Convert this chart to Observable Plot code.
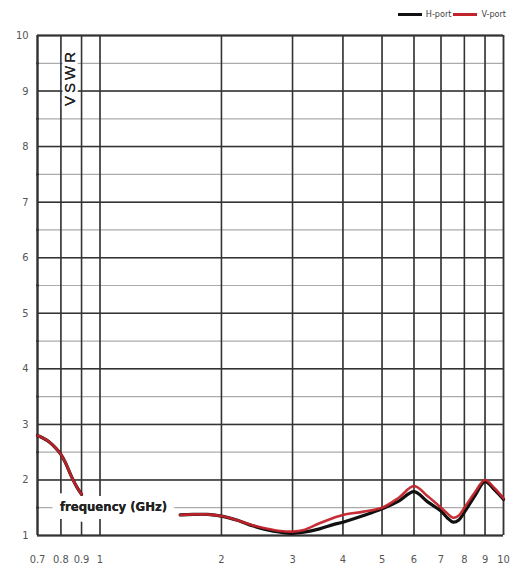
<!DOCTYPE html>
<html>
<head>
<meta charset="utf-8">
<script src="https://cdn.jsdelivr.net/npm/d3@7"></script>
<script src="https://cdn.jsdelivr.net/npm/@observablehq/plot@0.6"></script>
<style>
  body { margin: 0; background: #fff; }
  #wrap { position: relative; width: 520px; height: 573px; }
  #legend { position: absolute; top: 9px; right: 14px; font: 9px "Liberation Sans Narrow", "DejaVu Sans Condensed", sans-serif; color: #444; display: flex; align-items: center; gap: 2px; }
  .sw { display: inline-block; width: 24px; height: 3px; margin-right: 2px; }
</style>
</head>
<body>
<div id="wrap">
  <div id="legend"></div>
</div>
<script>
// Data
const seriesNames = ["H-port", "V-port"];
const seriesColors = ["#111111", "#c3242b"];
const freq = [0.7, 0.72, 0.75, 0.78, 0.8, 0.82, 0.85, 0.875, 0.9, null,
  1.58, 1.7, 1.85, 2.0, 2.2, 2.4, 2.6, 2.8, 3.0, 3.2, 3.5, 3.8, 4.0, 4.5, 5.0, 5.5, 6.0, 6.5, 7.0, 7.25, 7.5, 7.75, 8.0, 8.5, 9.0, 9.5, 10];
const hPort = [2.80, 2.76, 2.68, 2.56, 2.46, 2.32, 2.06, 1.88, 1.74, null,
  1.37, 1.38, 1.38, 1.35, 1.27, 1.17, 1.10, 1.06, 1.04, 1.06, 1.12, 1.20, 1.24, 1.36, 1.48, 1.62, 1.79, 1.60, 1.44, 1.32, 1.24, 1.28, 1.42, 1.72, 1.97, 1.82, 1.65];
const vPort = [2.80, 2.76, 2.68, 2.56, 2.46, 2.32, 2.06, 1.88, 1.74, null,
  1.37, 1.38, 1.38, 1.35, 1.27, 1.18, 1.12, 1.08, 1.07, 1.10, 1.22, 1.32, 1.37, 1.43, 1.50, 1.68, 1.89, 1.70, 1.50, 1.40, 1.32, 1.36, 1.50, 1.78, 2.00, 1.85, 1.67];
const xTicks = [0.7, 0.8, 0.9, 1, 2, 3, 4, 5, 6, 7, 8, 9, 10];
const xTickLabels = ["0.7", "0.8", "0.9", "1", "2", "3", "4", "5", "6", "7", "8", "9", "10"];
const yTicks = [1, 2, 3, 4, 5, 6, 7, 8, 9, 10];
const yTickLabels = ["1", "2", "3", "4", "5", "6", "7", "8", "9", "10"];
const yMinor = [1.5, 2.5, 3.5, 4.5, 5.5, 6.5, 7.5, 8.5, 9.5];
const xLabel = "frequency (GHz)";
const yLabel = "VSWR";

const rows = (vals) => freq.map((f, i) => ({ f: f == null ? NaN : f, v: vals[i] == null ? NaN : vals[i] }));
const hData = rows(hPort), vData = rows(vPort);
const narrow = "'Liberation Sans Narrow', 'DejaVu Sans Condensed', 'Liberation Sans', sans-serif";

const chart = Plot.plot({
  width: 520,
  height: 573,
  marginLeft: 37,
  marginRight: 17,
  marginTop: 35,
  marginBottom: 38,
  style: { fontFamily: narrow, background: "white" },
  x: { type: "log", domain: [0.7, 10], axis: null },
  y: { domain: [1, 10], axis: null },
  marks: [
    Plot.gridX(xTicks, { stroke: "#666", strokeOpacity: 0.7, strokeWidth: 1.2 }),
    Plot.gridY(yTicks.concat(yMinor), { stroke: "#666", strokeOpacity: 0.55, strokeWidth: 1.2 }),
    Plot.ruleX([10], { stroke: "#666", strokeWidth: 1.5 }),
    Plot.ruleY([1, 10], { stroke: "#333", strokeWidth: 2.2 }),
    Plot.ruleX([0.7], { stroke: "#333", strokeWidth: 2.2 }),
    // x ticks crossing the bottom axis
    Plot.tickX(xTicks, { x: (d) => d, y1: 0.93, y2: 1.1, stroke: "#333", strokeWidth: 1.5 }),
    Plot.text(xTicks, { x: (d) => d, frameAnchor: "bottom", dy: 27, text: (d, i) => xTickLabels[i], fontSize: 11, fill: "#555" }),
    // y ticks crossing the left axis
    Plot.tickY(yTicks, { y: (d) => d, x1: 0.68, x2: 0.72, stroke: "#333", strokeWidth: 1.5 }),
    Plot.text(yTicks, { y: (d) => d, frameAnchor: "left", dx: -9, textAnchor: "end", text: (d, i) => yTickLabels[i], fontSize: 11, fill: "#555" }),
    Plot.dot(yMinor, { x: () => 0.7, y: (d) => d, r: 1.4, fill: "#333" }),
    Plot.line(hData, { x: "f", y: "v", stroke: seriesColors[0], strokeWidth: 3.2, curve: "catmull-rom" }),
    Plot.line(vData, { x: "f", y: "v", stroke: seriesColors[1], strokeWidth: 2.6, strokeOpacity: 0.95, curve: "catmull-rom" }),
    Plot.text([xLabel], { frameAnchor: "bottom-left", dx: 76, dy: -25, fontSize: 13, fontWeight: "bold", fill: "#222", stroke: "white", strokeWidth: 16, textAnchor: "middle", fontFamily: narrow }),
    Plot.text([xLabel], { frameAnchor: "bottom-left", dx: 76, dy: -25, fontSize: 13, fontWeight: "bold", fill: "#222", textAnchor: "middle", fontFamily: narrow }),
    Plot.text([yLabel], { frameAnchor: "top-left", dx: 27, dy: 42, rotate: -90, textAnchor: "middle", fontSize: 15, fill: "#222", stroke: "white", strokeWidth: 6, fontFamily: "'Liberation Sans', sans-serif" }),
    Plot.text([yLabel], { frameAnchor: "top-left", dx: 27, dy: 42, rotate: -90, textAnchor: "middle", fontSize: 15, fill: "#222", fontFamily: "'Liberation Sans', sans-serif" })
  ]
});
document.getElementById("wrap").appendChild(chart);
// stretch the rotated VSWR label like the reference
d3.select(chart).selectAll("text").filter(function () { return this.textContent === yLabel; })
  .style("letter-spacing", "3px");

const legend = document.getElementById("legend");
seriesNames.forEach((n, i) => {
  const s = document.createElement("span");
  s.className = "sw";
  s.style.background = seriesColors[i];
  legend.appendChild(s);
  const t = document.createElement("span");
  t.textContent = n;
  legend.appendChild(t);
});
</script>
</body>
</html>
